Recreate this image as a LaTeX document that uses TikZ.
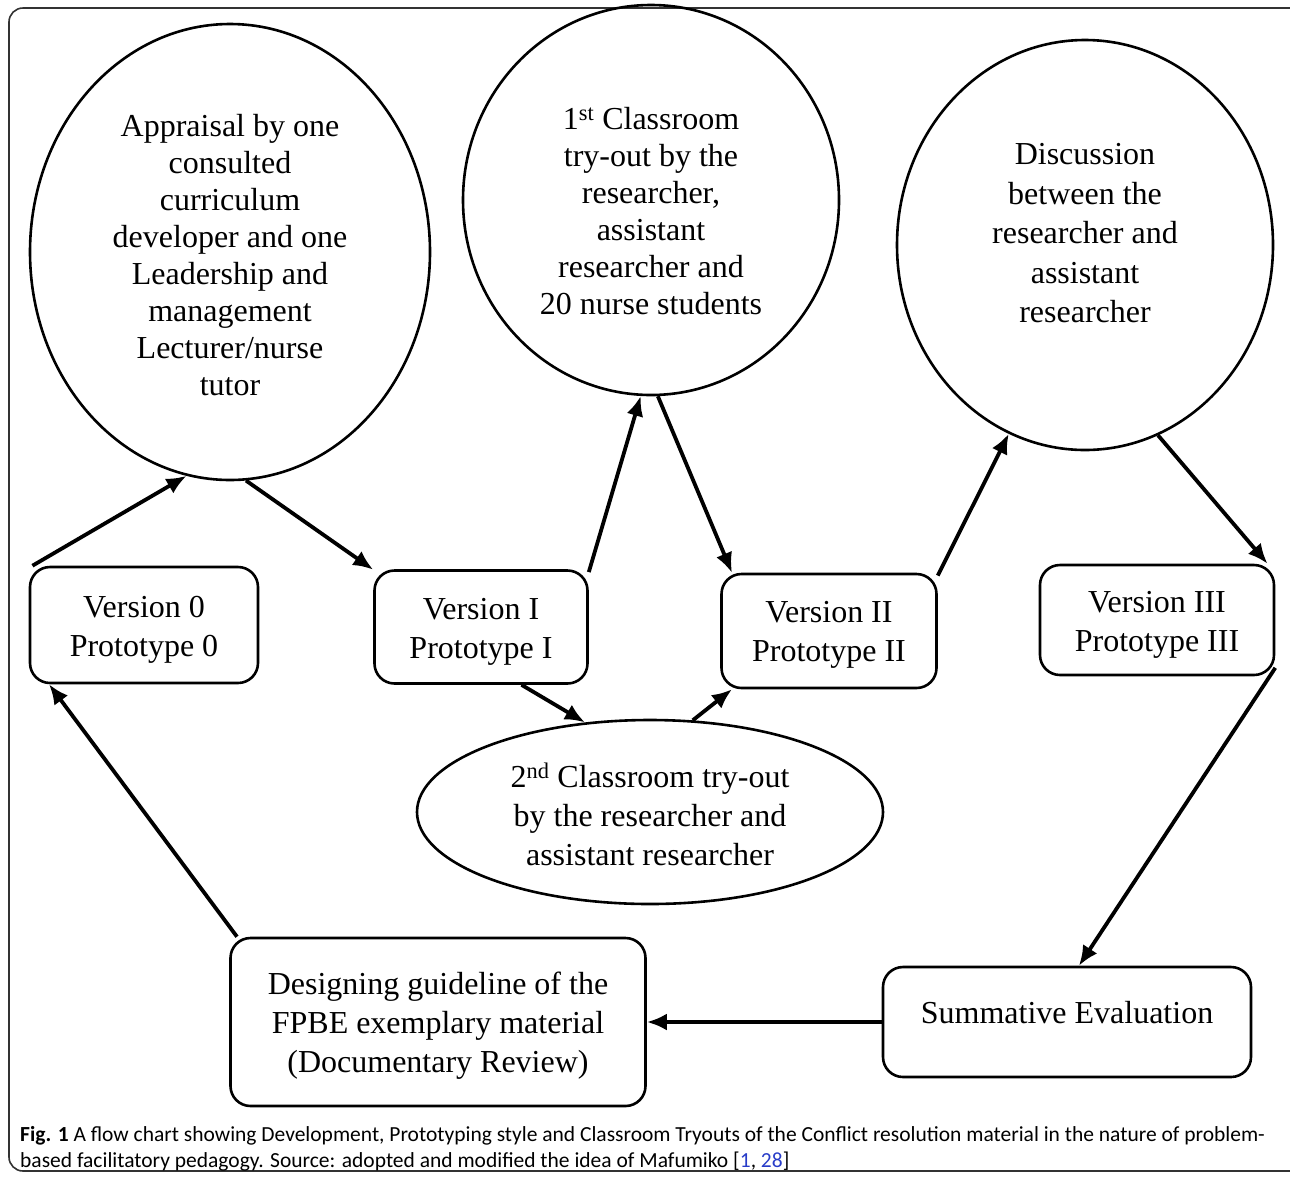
\documentclass[tikz,border=0pt]{standalone}
\usepackage{fontspec}
\setmainfont{Liberation Serif}
\newfontfamily\capfont{Carlito}
\usetikzlibrary{arrows.meta,shapes.geometric,positioning}
\definecolor{figblue}{RGB}{40,60,200}
\definecolor{framegray}{RGB}{50,50,50}
\newcommand{\toppad}[1]{\rule{0pt}{#1}}

\begin{document}
\begin{tikzpicture}[x=1pt,y=-1pt,>={Latex[length=20pt,width=17pt]},
  blob/.style={draw,ellipse,line width=2.6pt,inner sep=0pt,align=center,
    font=\fontsize{32}{37}\selectfont},
  stagebox/.style={draw,rectangle,rounded corners=20pt,line width=2.6pt,
    inner sep=0pt,align=center,font=\fontsize{32}{39}\selectfont},
  flow/.style={->,line width=3.8pt},
  captext/.style={anchor=base west,inner sep=0pt,
    font=\capfont\fontsize{21.5}{26}\selectfont}]
\useasboundingbox (0,0) rectangle (1290,1176);
\draw[framegray,line width=1.6pt,rounded corners=14pt] (9,8) rectangle (1310,1171);

% ellipses
\node[blob,minimum width=400pt,minimum height=456pt] (appraisal) at (230,252)
  {\toppad{29pt}Appraisal by one\\consulted\\curriculum\\developer and one\\Leadership and\\management\\Lecturer/nurse\\tutor};
\node[blob,minimum width=376pt,minimum height=390pt] (tryone) at (651,200)
  {\toppad{45pt}1\textsuperscript{st} Classroom\\try-out by the\\researcher,\\assistant\\researcher and\\20 nurse students};
\node[blob,minimum width=376pt,minimum height=410pt,font=\fontsize{32}{39.5}\selectfont] (discuss) at (1085,245)
  {Discussion\\between the\\researcher and\\assistant\\researcher\rule[-24pt]{0pt}{0pt}};
\node[blob,minimum width=466pt,minimum height=184pt,font=\fontsize{32}{39}\selectfont] (trytwo) at (650,812)
  {\toppad{29pt}2\textsuperscript{nd} Classroom try-out\\by the researcher and\\assistant researcher};

% versions
\node[stagebox,minimum width=228pt,minimum height=116pt] (vzero) at (144,625) {\toppad{30pt}Version 0\\Prototype 0};
\node[stagebox,minimum width=213pt,minimum height=113pt] (vone) at (481,627) {\toppad{30pt}Version I\\Prototype I};
\node[stagebox,minimum width=215pt,minimum height=114pt] (vtwo) at (829,631) {\toppad{29pt}Version II\\Prototype II};
\node[stagebox,minimum width=234pt,minimum height=110pt] (vthree) at (1157,620) {\toppad{30pt}Version III\\Prototype III};

% bottom row
\node[stagebox,minimum width=415pt,minimum height=168pt] (design) at (438,1022)
  {\toppad{30pt}Designing guideline of the\\FPBE exemplary material\\(Documentary Review)};
\node[stagebox,minimum width=368pt,minimum height=110pt] (summative) at (1067,1022) {Summative Evaluation\rule[-20pt]{0pt}{0pt}};

% arrows
\draw[flow] (vzero.152) -- (appraisal.259);
\draw[flow] (appraisal.274) -- (vone.152);
\draw[flow] (vone.27) -- (tryone.267);
\draw[flow] (tryone.272) -- (vtwo.149);
\draw[flow] (vone.305) -- (trytwo.126);
\draw[flow] (trytwo.65) -- (vtwo.211);
\draw[flow] (vtwo.27) -- (discuss.248);
\draw[flow] (discuss.291) -- (vthree.27);
\draw[flow] (vthree.338) -- (summative.78);
\draw[flow] (summative.west) -- (design.east);
\draw[flow] (design.157) -- (vzero.212);

% caption
\node[captext] (capone) at (20,1141) {\textbf{Fig. 1} A flow chart showing Development, Prototyping style and Classroom Tryouts of the Conflict resolution material in the nature of problem-};
\node[captext] (captwo) at (20,1167) {based facilitatory pedagogy. Source: adopted and modified the idea of Mafumiko [\textcolor{figblue}{1}, \textcolor{figblue}{28}]};
\end{tikzpicture}
\end{document}
